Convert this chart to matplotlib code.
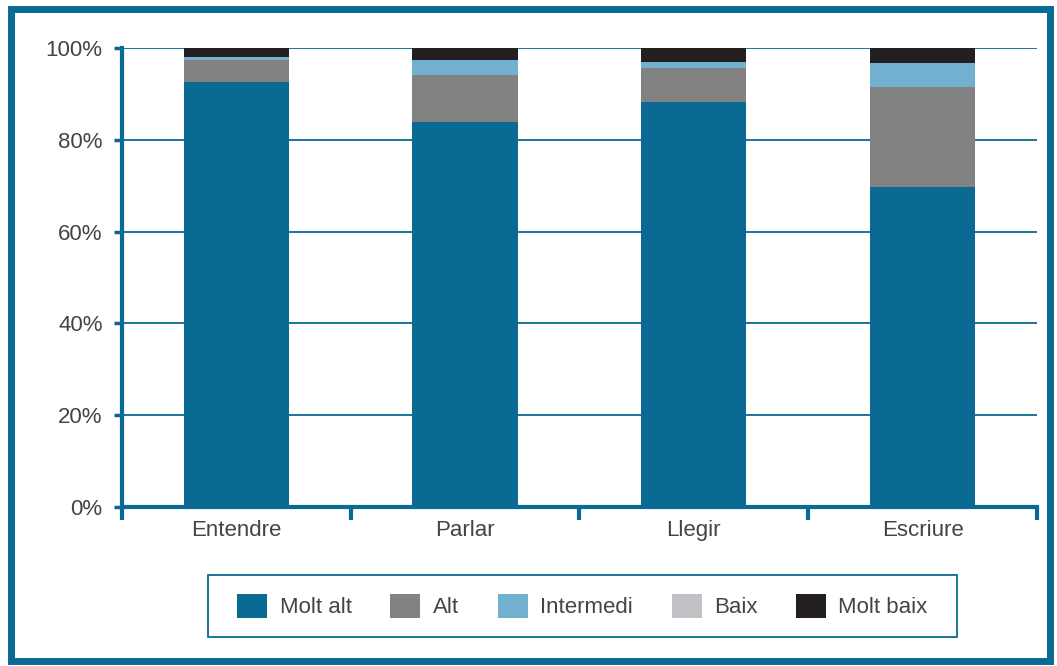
import matplotlib
matplotlib.use("Agg")
import matplotlib.pyplot as plt
from matplotlib.patches import Rectangle
import numpy as np

plt.rcParams['font.family'] = ['Liberation Sans', 'DejaVu Sans']

categories = ["Entendre", "Parlar", "Llegir", "Escriure"]
levels = ["Molt alt", "Alt", "Intermedi", "Baix", "Molt baix"]
molt_alt = [92.5, 83.9, 88.3, 69.8]
alt = [4.9, 10.1, 7.4, 21.8]
intermedi = [0.6, 3.3, 1.3, 5.2]
baix = [0.0, 0.1, 0.0, 0.0]
molt_baix = [2.0, 2.6, 3.0, 3.2]
yticks = [0, 20, 40, 60, 80, 100]

series = [molt_alt, alt, intermedi, baix, molt_baix]
colors = ["#0a6a93", "#828282", "#72b0d0", "#c2c2c6", "#231f20"]
teal = "#0a6a93"
text_col = "#444444"
fs = 16

fig = plt.figure(figsize=(10.57, 6.66), dpi=100)
ax = fig.add_axes([0.1154, 0.2387, 0.8656, 0.6893])

x = np.arange(len(categories))
bottom = np.zeros(len(categories))
for vals, col, lab in zip(series, colors, levels):
    ax.bar(x, vals, width=0.46, bottom=bottom, color=col, label=lab, zorder=3)
    bottom += np.array(vals)

ax.set_xlim(-0.5, len(categories) - 0.5)
ax.set_ylim(0, 100)
ax.set_yticks(yticks)
ax.set_yticklabels([f"{v}%" for v in yticks], fontsize=fs, color=text_col)
ax.yaxis.grid(True, color=teal, linewidth=1.3, zorder=1)
ax.tick_params(axis='y', length=6, width=2.5, color=teal, pad=8)

ax.set_xticks(x)
ax.set_xticklabels(categories, fontsize=fs, color=text_col)
ax.tick_params(axis='x', which='major', length=0, pad=9)
ax.set_xticks(np.arange(-0.5, len(categories)), minor=True)
ax.tick_params(axis='x', which='minor', length=9, width=3, color=teal, direction='out')

for side in ['top', 'right']:
    ax.spines[side].set_visible(False)
for side in ['left', 'bottom']:
    ax.spines[side].set_color(teal)
    ax.spines[side].set_linewidth(3)
    ax.spines[side].set_zorder(4)

# legend entries in one row, with a separately drawn box around them
leg = fig.legend(loc='center', bbox_to_anchor=(0.5511, 0.0901), ncol=5,
                 fontsize=fs, frameon=False,
                 handlelength=1.35, handleheight=1.35, handletextpad=0.55,
                 columnspacing=1.75, borderpad=0, borderaxespad=0,
                 labelcolor=text_col)
fig.add_artist(Rectangle((208 / 1057, 1 - 637 / 666), 749 / 1057, 62 / 666,
                         transform=fig.transFigure, fill=False,
                         edgecolor=teal, linewidth=1.3))

# outer frame
fig.add_artist(Rectangle((0.0105, 0.0075), 0.983, 0.979, transform=fig.transFigure,
                         fill=False, edgecolor=teal, linewidth=5))

fig.savefig("out.png", dpi=100)
